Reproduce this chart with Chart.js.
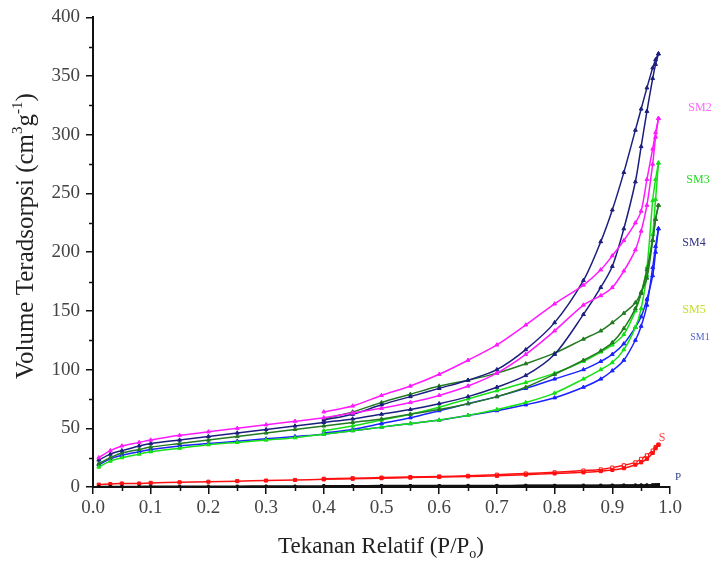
<!DOCTYPE html>
<html>
<head>
<meta charset="utf-8">
<script src="https://cdn.jsdelivr.net/npm/chart.js@4.4.1/dist/chart.umd.min.js"></script>
<style>
  html, body { margin: 0; padding: 0; background: #fff; }
  #wrap { width: 713px; height: 568px; }
</style>
</head>
<body>
<div id="wrap"><canvas id="iso"></canvas></div>
<script>
// relative pressure grids (P/Po)
const adsP = [0.01, 0.03, 0.05, 0.08, 0.1, 0.15, 0.2, 0.25, 0.3, 0.35, 0.4, 0.45, 0.5, 0.55, 0.6, 0.65, 0.7, 0.75, 0.8, 0.85, 0.88, 0.9, 0.92, 0.94, 0.95, 0.96, 0.97, 0.975, 0.98];
const desP = [0.98, 0.975, 0.97, 0.96, 0.95, 0.94, 0.92, 0.9, 0.88, 0.85, 0.8, 0.75, 0.7, 0.65, 0.6, 0.55, 0.5, 0.45, 0.4];

// volume adsorbed (cm3/g) - adsorption / desorption branches
const sm1Ads = [19, 24, 27, 30, 32, 35, 37, 39, 41, 43, 45, 48, 51, 54, 57, 61, 65, 70, 76, 85, 92, 99, 108, 125, 137, 155, 187, 205, 220];
const sm1Des = [220, 200, 180, 160, 145, 136, 122, 113, 107, 100, 92, 84, 77, 71, 65, 59, 54, 49, 46];

const sm2Ads = [25, 31, 35, 38, 40, 44, 47, 50, 53, 56, 59, 63, 67, 72, 78, 86, 97, 113, 133, 155, 163, 170, 184, 202, 218, 240, 275, 298, 314];
const sm2Des = [314, 302, 288, 262, 235, 225, 210, 197, 185, 172, 156, 138, 121, 108, 96, 86, 78, 69, 64];

const sm3Ads = [17, 22, 25, 28, 30, 33, 36, 38, 40, 42, 45, 48, 51, 54, 57, 61, 66, 72, 80, 92, 100, 106, 117, 136, 152, 180, 215, 245, 276];
const sm3Des = [276, 262, 244, 187, 165, 150, 130, 121, 115, 107, 97, 89, 82, 75, 68, 62, 57, 52, 48];

const sm4Ads = [23, 28, 31, 35, 37, 40, 43, 46, 49, 52, 55, 58, 62, 66, 71, 77, 85, 95, 113, 147, 170, 188, 220, 260, 290, 320, 348, 360, 369];
const sm4Des = [369, 364, 357, 340, 322, 304, 268, 236, 209, 176, 140, 117, 100, 91, 84, 77, 70, 62, 57];

const sm5Ads = [20, 25, 29, 32, 34, 37, 40, 43, 46, 49, 52, 55, 58, 62, 66, 71, 77, 85, 96, 108, 116, 123, 135, 152, 165, 185, 210, 228, 240];
const sm5Des = [240, 228, 210, 178, 166, 157, 148, 140, 133, 126, 114, 105, 97, 91, 86, 79, 72, 64, 58];

const sAds = [2, 2.5, 3, 3, 3.5, 4, 4.5, 5, 5.5, 6, 6.5, 7, 7.5, 8, 8.5, 9, 9.5, 10.5, 11.5, 12.5, 13.5, 14.5, 16, 19, 21, 24, 29, 33, 36];
const sDes = [36, 34, 31, 27, 24, 21, 18.5, 16.5, 15, 14, 12.5, 11.5, 10.5, 9.5, 9, 8.5, 8, 7.5, 7];

const pAds = [0.3, 0.4, 0.5, 0.5, 0.6, 0.6, 0.7, 0.7, 0.8, 0.8, 0.9, 0.9, 1, 1, 1, 1.1, 1.1, 1.2, 1.2, 1.3, 1.3, 1.4, 1.4, 1.5, 1.5, 1.6, 1.7, 1.8, 2];
const pDes = [2, 1.9, 1.8, 1.7, 1.7, 1.6, 1.6, 1.5, 1.5, 1.5, 1.4, 1.4, 1.3, 1.3, 1.2, 1.2, 1.2, 1.1, 1.1];

const xTicks = [0, 0.1, 0.2, 0.3, 0.4, 0.5, 0.6, 0.7, 0.8, 0.9, 1.0];
const yTicks = [0, 50, 100, 150, 200, 250, 300, 350, 400];

// labels next to the curves
const sampleLabels = [
  { text: 'SM2', color: '#ff66ff', dx: 30, y: 108 },
  { text: 'SM3', color: '#22dd22', dx: 28, y: 180 },
  { text: 'SM4', color: '#333388', dx: 24, y: 243 },
  { text: 'SM5', color: '#c8dc2a', dx: 24, y: 310 },
  { text: 'SM1', color: '#5566cc', dx: 30, y: 337, size: 10 },
  { text: 'S', color: '#ff4444', dx: -8, y: 438 },
  { text: 'P', color: '#334488', dx: 8, y: 477, size: 11 }
];

const pts = (xs, ys) => xs.map((x, i) => ({ x: x, y: ys[i] }));

function branch(label, xs, ys, color, opts) {
  return Object.assign({
    label: label,
    data: pts(xs, ys),
    borderColor: color,
    backgroundColor: color,
    pointBackgroundColor: color,
    pointBorderColor: color,
    borderWidth: 1.5,
    pointRadius: 2.2,
    pointStyle: 'triangle',
    pointBorderWidth: 1,
    tension: 0.3,
    fill: false
  }, opts || {});
}

const NAVY = '#1c1f7e', MAG = '#ff1aff', BLUE = '#1a22ff', GREEN = '#16e016', DKGREEN = '#237a23', RED = '#ff1010';

const datasets = [
  branch('P ads', adsP, pAds, '#111111', { pointRadius: 1.5, pointStyle: 'rect' }),
  branch('P des', desP, pDes, '#111111', { pointRadius: 1.5, pointStyle: 'rect' }),
  branch('S ads', adsP, sAds, RED, { pointStyle: 'rect' }),
  branch('S des', desP, sDes, RED, { pointStyle: 'rect', pointBackgroundColor: '#fff' }),
  branch('SM2 ads', adsP, sm2Ads, MAG),
  branch('SM2 des', desP, sm2Des, MAG),
  branch('SM4 ads', adsP, sm4Ads, NAVY),
  branch('SM4 des', desP, sm4Des, NAVY),
  branch('SM5 ads', adsP, sm5Ads, DKGREEN),
  branch('SM5 des', desP, sm5Des, DKGREEN),
  branch('SM3 ads', adsP, sm3Ads, GREEN),
  branch('SM3 des', desP, sm3Des, GREEN),
  branch('SM1 ads', adsP, sm1Ads, BLUE),
  branch('SM1 des', desP, sm1Des, BLUE)
];

// minor ticks, axis titles and curve labels
const decorations = {
  id: 'decorations',
  afterDraw(chart) {
    const ctx = chart.ctx;
    const xs = chart.scales.x, ys = chart.scales.y;
    const area = chart.chartArea;
    ctx.save();
    ctx.strokeStyle = '#111';
    ctx.lineWidth = 1.5;
    ctx.beginPath();
    for (let v = 25; v < 400; v += 50) {
      const py = Math.round(ys.getPixelForValue(v)) + 0.5;
      ctx.moveTo(area.left, py);
      ctx.lineTo(area.left - 4, py);
    }
    for (let v = 0.05; v < 1; v += 0.1) {
      const px = Math.round(xs.getPixelForValue(v)) + 0.5;
      ctx.moveTo(px, area.bottom);
      ctx.lineTo(px, area.bottom + 4);
    }
    ctx.stroke();

    // y title
    ctx.fillStyle = '#222';
    ctx.textBaseline = 'middle';
    const big = '25px "Liberation Serif", serif';
    const small = '15px "Liberation Serif", serif';
    const yParts = [['Volume Teradsorpsi (cm', big, 0], ['3', small, -8], ['g', big, 0], ['-1', small, -8], [')', big, 0]];
    ctx.save();
    ctx.translate(26, 0);
    ctx.rotate(-Math.PI / 2);
    let total = 0;
    yParts.forEach(p => { ctx.font = p[1]; total += ctx.measureText(p[0]).width; });
    let cx = -236 - total / 2;
    yParts.forEach(p => {
      ctx.font = p[1];
      ctx.textAlign = 'left';
      ctx.fillText(p[0], cx, p[2]);
      cx += ctx.measureText(p[0]).width;
    });
    ctx.restore();

    // x title
    const bigX = '23px "Liberation Serif", serif';
    const smallX = '14px "Liberation Serif", serif';
    const xParts = [['Tekanan Relatif (P/P', bigX, 0], ['o', smallX, 7], [')', bigX, 0]];
    total = 0;
    xParts.forEach(p => { ctx.font = p[1]; total += ctx.measureText(p[0]).width; });
    cx = 381 - total / 2;
    xParts.forEach(p => {
      ctx.font = p[1];
      ctx.textAlign = 'left';
      ctx.fillText(p[0], cx, 547 + p[2]);
      cx += ctx.measureText(p[0]).width;
    });

    // curve labels
    sampleLabels.forEach(l => {
      ctx.font = (l.size || 12) + 'px "Liberation Serif", serif';
      ctx.fillStyle = l.color;
      ctx.textAlign = 'center';
      ctx.fillText(l.text, area.right + l.dx, l.y);
    });
    ctx.restore();
  }
};

const tickFont = { family: '"Liberation Serif", serif', size: 19 };

new Chart(document.getElementById('iso'), {
  type: 'line',
  data: { datasets: datasets },
  options: {
    responsive: true,
    maintainAspectRatio: false,
    animation: false,
    layout: { padding: { top: 16, right: 43, left: 0, bottom: 0 } },
    plugins: { legend: { display: false }, tooltip: { enabled: false } },
    scales: {
      x: {
        type: 'linear',
        min: 0,
        max: 1,
        afterBuildTicks: (s) => { s.ticks = xTicks.map(v => ({ value: v })); },
        afterFit: (s) => { s.height = 81; },
        ticks: { font: tickFont, color: '#444', padding: 3, maxRotation: 0, callback: (v) => v.toFixed(1) },
        grid: { drawOnChartArea: false, color: '#111', lineWidth: 1.5, tickLength: 7 },
        border: { color: '#111', width: 2 }
      },
      y: {
        min: 0,
        max: 400,
        afterBuildTicks: (s) => { s.ticks = yTicks.map(v => ({ value: v })); },
        afterFit: (s) => { s.width = 93; },
        ticks: { font: tickFont, color: '#444', padding: 6 },
        grid: { drawOnChartArea: false, color: '#111', lineWidth: 1.5, tickLength: 7 },
        border: { color: '#111', width: 2 }
      }
    }
  },
  plugins: [decorations]
});
</script>
</body>
</html>
